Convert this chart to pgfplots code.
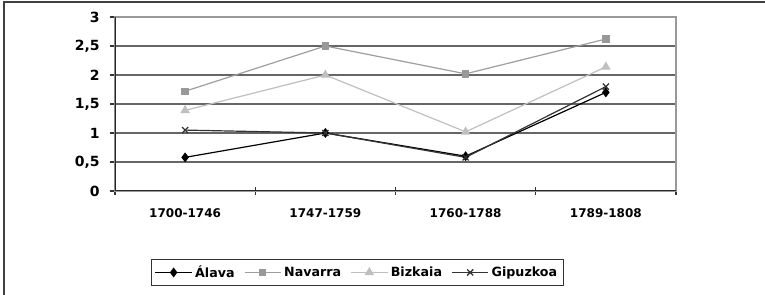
\documentclass[border=0pt]{standalone}
\usepackage{pgfplots}
\pgfplotsset{compat=1.18}
\usepackage{fontspec}
\setmainfont{DejaVu Sans}
\begin{document}
\begin{tikzpicture}
\useasboundingbox (0,0) rectangle (573.75pt,221.25pt);
\draw[line width=1pt, black!75] (3pt,0pt) -- (3pt,219.75pt) -- (573.75pt,219.75pt);
\begin{axis}[
  at={(86.25pt,78pt)}, anchor=south west,
  scale only axis, width=420.75pt, height=130.5pt,
  xmin=0.5, xmax=4.5, ymin=0, ymax=3,
  xtick={1,2,3,4},
  xticklabels={1700-1746,1747-1759,1760-1788,1789-1808},
  minor xtick={0.5,1.5,2.5,3.5,4.5},
  major x tick style={draw=none},
  minor tick length=6pt,
  xtick align=center,
  ytick={0,0.5,...,3},
  ytick align=outside, ytick pos=left, xtick pos=bottom,
  major tick length=4pt,
  tick style={black!80, line width=0.8pt},
  /pgf/number format/use comma,
  /pgf/number format/assume math mode=true,
  tick label style={font=\bfseries\fontsize{9}{10}\selectfont},
  yticklabel style={font=\bfseries\fontsize{10.5}{12}\selectfont, xshift=-4pt},
  xticklabel style={yshift=-8pt},
  ymajorgrids,
  major grid style={black!60, line width=1.3pt},
  axis line style={black!40, line width=0.8pt},
  legend columns=4,
  legend style={at={(0.432,-0.468)}, anchor=center, draw=black!80, line width=0.8pt,
    font=\bfseries\fontsize{9.5}{11}\selectfont, inner sep=2.5pt,
    /tikz/every even column/.append style={column sep=5pt}},
  legend image code/.code={
    \draw[mark repeat=2,mark phase=2] plot coordinates {(0cm,0cm) (0.48cm,0cm) (0.96cm,0cm)};},
]
\draw[black!85, line width=1pt] (axis cs:0.5,0) -- (axis cs:0.5,3);
\draw[black!85, line width=1pt] (axis cs:0.5,0) -- (axis cs:4.5,0);
\addplot[black, line width=0.9pt, mark=diamond*, mark size=3pt, mark options={fill=black}]
  coordinates {(1,0.58) (2,1.0) (3,0.6) (4,1.7)};
\addlegendentry{Álava}
\addplot[black!38, line width=0.9pt, mark=square*, mark size=2.3pt, mark options={fill=black!40, draw=black!40}]
  coordinates {(1,1.72) (2,2.5) (3,2.02) (4,2.62)};
\addlegendentry{Navarra}
\addplot[black!25, line width=0.9pt, mark=triangle*, mark size=3.2pt, mark options={fill=black!25, draw=black!25}]
  coordinates {(1,1.39) (2,2.0) (3,1.02) (4,2.14)};
\addlegendentry{Bizkaia}
\addplot[black!80, line width=0.9pt, mark=x, mark size=3.2pt, mark options={line width=1pt}]
  coordinates {(1,1.05) (2,1.0) (3,0.58) (4,1.8)};
\addlegendentry{Gipuzkoa}
\end{axis}
\end{tikzpicture}
\end{document}
